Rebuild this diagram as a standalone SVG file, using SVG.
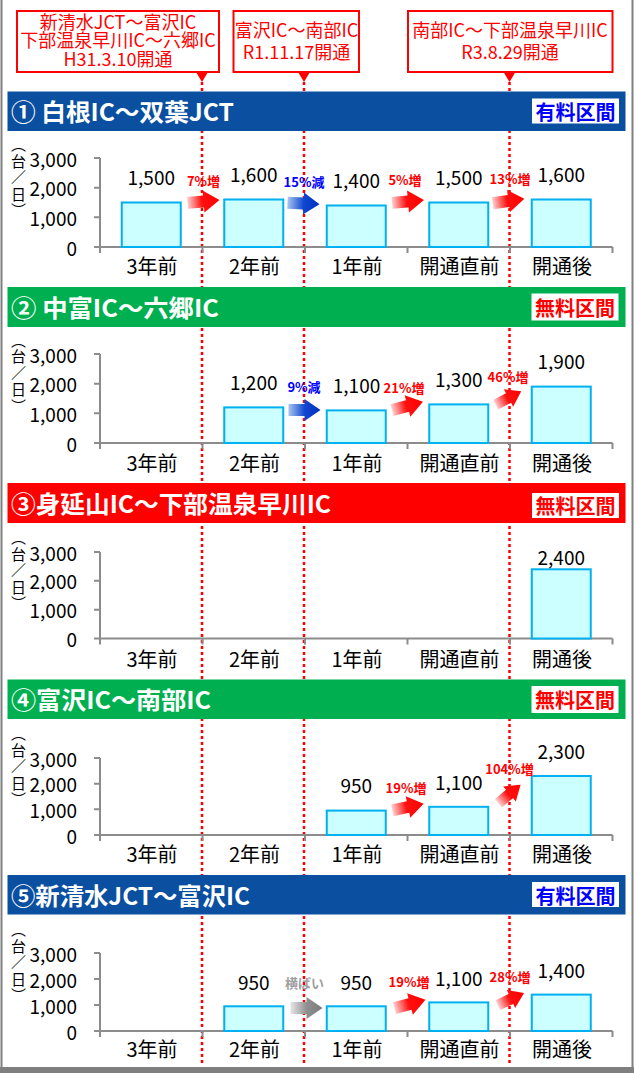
<svg xmlns="http://www.w3.org/2000/svg" xmlns:xlink="http://www.w3.org/1999/xlink" width="634" height="1073" viewBox="0 0 634 1073">
<defs>
<style>
text{font-family:"Noto Sans CJK JP","Noto Sans",sans-serif}
.ttl{font-size:24px;font-weight:bold;fill:#fff}
.bw{fill:#fff}
.bb{font-size:20px;font-weight:bold;fill:#0000FF;text-anchor:middle}
.br{font-size:20px;font-weight:bold;fill:#FF0000;text-anchor:middle}
.ax{stroke:#8C8C8C;stroke-width:2;fill:none}
.yl{font-size:19px;text-anchor:end;dominant-baseline:central;fill:#000}
.cat{font-size:20px;text-anchor:middle;fill:#000}
.val{font-size:19px;text-anchor:middle;fill:#000}
.bar{fill:#CCFFFF;stroke:#00B0F0;stroke-width:2}
.u{font-size:15px;writing-mode:vertical-rl;letter-spacing:1.5px;fill:#000}
.pr{font-size:13px;font-weight:bold;text-anchor:middle;fill:#FF0000}
.pb{font-size:13px;font-weight:bold;text-anchor:middle;fill:#0000FF}
.pg{font-size:13px;font-weight:bold;text-anchor:middle;fill:#A0A0A0}
.dl{stroke:#FF0000;stroke-width:2.5;stroke-dasharray:3 3;fill:none}
.hb{fill:#fff;stroke:#FF0000;stroke-width:2}
.ht{font-size:18px;fill:#FF0000;text-anchor:middle}
.tri{fill:#FF0000}
</style>
<linearGradient id="gR" x1="0" y1="0" x2="1" y2="0">
<stop offset="0" stop-color="#FFD0D0"/>
<stop offset="0.45" stop-color="#FF1010"/>
<stop offset="1" stop-color="#FF0000"/>
</linearGradient>
<linearGradient id="gB" x1="0" y1="0" x2="1" y2="0">
<stop offset="0" stop-color="#A8C4F0"/>
<stop offset="0.5" stop-color="#1048D0"/>
<stop offset="1" stop-color="#0030C0"/>
</linearGradient>
<linearGradient id="gG" x1="0" y1="0" x2="1" y2="0">
<stop offset="0" stop-color="#E6E6E6"/>
<stop offset="0.5" stop-color="#909090"/>
<stop offset="1" stop-color="#7A7A7A"/>
</linearGradient>
<path id="arw" d="M-16,-6 H0 V-11 L16,0 L0,11 V6 H-16 Z"/>
</defs>

<rect x="0" y="0" width="634" height="1073" fill="#fff"/>
<g id="frame">
<line x1="1.5" y1="0" x2="1.5" y2="1073" stroke="#7F7F7F" stroke-width="2"/>
<line x1="632.5" y1="0" x2="632.5" y2="1073" stroke="#7F7F7F" stroke-width="2"/>
<rect x="0" y="1067" width="634" height="6" fill="#7F7F7F"/>
</g>

<g id="connectors">
<line class="dl" x1="202" y1="82" x2="202" y2="1066"/>
<line class="dl" x1="304" y1="82" x2="304" y2="1066"/>
<line class="dl" x1="509.5" y1="82" x2="509.5" y2="1066"/>
</g>

<g id="callout1">
<rect class="hb" x="17" y="11" width="202" height="61"/>
<polygon class="tri" points="196,72 208,72 202,82"/>
<text class="ht"><tspan x="118" y="28.5">新清水JCT～富沢IC</tspan><tspan x="118" y="47">下部温泉早川IC～六郷IC</tspan><tspan x="118" y="65.5">H31.3.10開通</tspan></text>
</g>
<g id="callout2">
<rect class="hb" x="233.5" y="11" width="125.5" height="61"/>
<polygon class="tri" points="298,72 310,72 304,82"/>
<text class="ht"><tspan x="296.5" y="37">富沢IC～南部IC</tspan><tspan x="296.5" y="58.5">R1.11.17開通</tspan></text>
</g>
<g id="callout3">
<rect class="hb" x="408" y="11" width="204.5" height="61"/>
<polygon class="tri" points="503.5,72 515.5,72 509.5,82"/>
<text class="ht"><tspan x="510" y="37">南部IC～下部温泉早川IC</tspan><tspan x="510" y="58.5">R3.8.29開通</tspan></text>
</g>

<!-- Section 1 -->
<g id="section1">
<rect x="7.5" y="91.5" width="618" height="39.5" fill="#0A4FA0"/>
<text class="ttl" x="11" y="121" textLength="223" lengthAdjust="spacingAndGlyphs">① 白根IC～双葉JCT</text>
<rect class="bw" x="532" y="98.5" width="87" height="25"/>
<text class="bb" x="575.5" y="120">有料区間</text>
<text class="u" x="18.5" y="137">︵台／日︶</text>
<text class="yl" x="77" y="158">3,000</text>
<text class="yl" x="77" y="187.7">2,000</text>
<text class="yl" x="77" y="217.3">1,000</text>
<text class="yl" x="77" y="247">0</text>
<path class="ax" d="M100,158V247M94,158H100M94,187.7H100M94,217.3H100M94,247H612.5M100,247v6M202.5,247v6M305,247v6M407.5,247v6M510,247v6M612.5,247v6"/>
<rect class="bar" x="121.75" y="202.5" width="59" height="44.5"/>
<rect class="bar" x="224.25" y="199.5" width="59" height="47.5"/>
<rect class="bar" x="326.75" y="205.5" width="59" height="41.5"/>
<rect class="bar" x="429.25" y="202.5" width="59" height="44.5"/>
<rect class="bar" x="531.75" y="199.5" width="59" height="47.5"/>
<text class="val" x="151.25" y="185">1,500</text>
<text class="val" x="253.75" y="182">1,600</text>
<text class="val" x="356.25" y="188">1,400</text>
<text class="val" x="458.75" y="185">1,500</text>
<text class="val" x="561.25" y="182">1,600</text>
<text class="cat" x="152" y="274">3年前</text>
<text class="cat" x="254.5" y="274">2年前</text>
<text class="cat" x="357" y="274">1年前</text>
<text class="cat" x="459.5" y="274">開通直前</text>
<text class="cat" x="562" y="274">開通後</text>
<use xlink:href="#arw" href="#arw" fill="url(#gR)" transform="translate(203.5,201.5) rotate(-5)"/>
<use xlink:href="#arw" href="#arw" fill="url(#gB)" transform="translate(303.5,203.5) rotate(3)"/>
<use xlink:href="#arw" href="#arw" fill="url(#gR)" transform="translate(408,201.5) rotate(-5)"/>
<use xlink:href="#arw" href="#arw" fill="url(#gR)" transform="translate(508.5,201) rotate(-8)"/>
<text class="pr" x="203.5" y="185.5">7%増</text>
<text class="pb" x="304" y="187">15%減</text>
<text class="pr" x="405" y="185">5%増</text>
<text class="pr" x="510" y="183.5">13%増</text>
</g>

<!-- Section 2 -->
<g id="section2">
<rect x="7.5" y="287" width="618" height="40" fill="#00B050"/>
<text class="ttl" x="11" y="316.5" textLength="208" lengthAdjust="spacingAndGlyphs">② 中富IC～六郷IC</text>
<rect class="bw" x="531.5" y="293.5" width="87" height="27"/>
<text class="br" x="575" y="315.5">無料区間</text>
<text class="u" x="18.5" y="332.5">︵台／日︶</text>
<text class="yl" x="77" y="354">3,000</text>
<text class="yl" x="77" y="383.7">2,000</text>
<text class="yl" x="77" y="413.3">1,000</text>
<text class="yl" x="77" y="443">0</text>
<path class="ax" d="M100,354V443M94,354H100M94,383.7H100M94,413.3H100M94,443H612.5M100,443v6M202.5,443v6M305,443v6M407.5,443v6M510,443v6M612.5,443v6"/>
<rect class="bar" x="224.25" y="407.4" width="59" height="35.6"/>
<rect class="bar" x="326.75" y="410.4" width="59" height="32.6"/>
<rect class="bar" x="429.25" y="404.4" width="59" height="38.6"/>
<rect class="bar" x="531.75" y="386.6" width="59" height="56.4"/>
<text class="val" x="253.75" y="390">1,200</text>
<text class="val" x="356.5" y="393">1,100</text>
<text class="val" x="458.75" y="387">1,300</text>
<text class="val" x="561.25" y="369">1,900</text>
<text class="cat" x="152" y="471">3年前</text>
<text class="cat" x="254.5" y="471">2年前</text>
<text class="cat" x="357" y="471">1年前</text>
<text class="cat" x="459.5" y="471">開通直前</text>
<text class="cat" x="562" y="471">開通後</text>
<use xlink:href="#arw" href="#arw" fill="url(#gB)" transform="translate(304.5,410)"/>
<use xlink:href="#arw" href="#arw" fill="url(#gR)" transform="translate(407.5,406) rotate(-15)"/>
<use xlink:href="#arw" href="#arw" fill="url(#gR)" transform="translate(508.5,398) rotate(-28) scale(0.9)"/>
<text class="pb" x="304" y="391.5">9%減</text>
<text class="pr" x="404" y="393">21%増</text>
<text class="pr" x="508" y="382">46%増</text>
</g>

<!-- Section 3 -->
<g id="section3">
<rect x="7.5" y="483" width="618" height="40" fill="#FF0000"/>
<text class="ttl" x="11" y="513" textLength="320" lengthAdjust="spacingAndGlyphs">③身延山IC～下部温泉早川IC</text>
<rect class="bw" x="532" y="493" width="87" height="25"/>
<text class="br" x="575.5" y="514">無料区間</text>
<text class="u" x="18.5" y="530">︵台／日︶</text>
<text class="yl" x="77" y="552">3,000</text>
<text class="yl" x="77" y="580.8">2,000</text>
<text class="yl" x="77" y="609.7">1,000</text>
<text class="yl" x="77" y="638.5">0</text>
<path class="ax" d="M100,552V638.5M94,552H100M94,580.8H100M94,609.7H100M94,638.5H612.5M100,638.5v6M202.5,638.5v6M305,638.5v6M407.5,638.5v6M510,638.5v6M612.5,638.5v6"/>
<rect class="bar" x="531.75" y="569.3" width="59" height="69.2"/>
<text class="val" x="561.25" y="565">2,400</text>
<text class="cat" x="152" y="667">3年前</text>
<text class="cat" x="254.5" y="667">2年前</text>
<text class="cat" x="357" y="667">1年前</text>
<text class="cat" x="459.5" y="667">開通直前</text>
<text class="cat" x="562" y="667">開通後</text>
</g>

<!-- Section 4 -->
<g id="section4">
<rect x="7.5" y="679.5" width="618" height="39.5" fill="#00B050"/>
<text class="ttl" x="11" y="709" textLength="200" lengthAdjust="spacingAndGlyphs">④富沢IC～南部IC</text>
<rect class="bw" x="531.5" y="686" width="87" height="27"/>
<text class="br" x="575" y="708">無料区間</text>
<text class="u" x="18.5" y="726">︵台／日︶</text>
<text class="yl" x="77" y="758">3,000</text>
<text class="yl" x="77" y="783.7">2,000</text>
<text class="yl" x="77" y="809.3">1,000</text>
<text class="yl" x="77" y="835">0</text>
<path class="ax" d="M100,758V835M94,758H100M94,783.7H100M94,809.3H100M94,835H612.5M100,835v6M202.5,835v6M305,835v6M407.5,835v6M510,835v6M612.5,835v6"/>
<rect class="bar" x="326.75" y="810.6" width="59" height="24.4"/>
<rect class="bar" x="429.25" y="806.8" width="59" height="28.2"/>
<rect class="bar" x="531.75" y="776" width="59" height="59"/>
<text class="val" x="356.25" y="793">950</text>
<text class="val" x="458.75" y="789.5">1,100</text>
<text class="val" x="561.25" y="758.5">2,300</text>
<text class="cat" x="152" y="862">3年前</text>
<text class="cat" x="254.5" y="862">2年前</text>
<text class="cat" x="357" y="862">1年前</text>
<text class="cat" x="459.5" y="862">開通直前</text>
<text class="cat" x="562" y="862">開通後</text>
<use xlink:href="#arw" href="#arw" fill="url(#gR)" transform="translate(408,807) rotate(-12)"/>
<use xlink:href="#arw" href="#arw" fill="url(#gR)" transform="translate(509.5,794) rotate(-40) scale(0.9)"/>
<text class="pr" x="406" y="792.5">19%増</text>
<text class="pr" x="509.5" y="773.5">104%増</text>
</g>

<!-- Section 5 -->
<g id="section5">
<rect x="7.5" y="875" width="618" height="39.5" fill="#0A4FA0"/>
<text class="ttl" x="11" y="904.5" textLength="239" lengthAdjust="spacingAndGlyphs">⑤新清水JCT～富沢IC</text>
<rect class="bw" x="532" y="882" width="87" height="25"/>
<text class="bb" x="575.5" y="903.5">有料区間</text>
<text class="u" x="18.5" y="922">︵台／日︶</text>
<text class="yl" x="77" y="953">3,000</text>
<text class="yl" x="77" y="979">2,000</text>
<text class="yl" x="77" y="1005">1,000</text>
<text class="yl" x="77" y="1031">0</text>
<path class="ax" d="M100,953V1031M94,953H100M94,979H100M94,1005H100M94,1031H612.5M100,1031v6M202.5,1031v6M305,1031v6M407.5,1031v6M510,1031v6M612.5,1031v6"/>
<rect class="bar" x="224.25" y="1006.3" width="59" height="24.7"/>
<rect class="bar" x="326.75" y="1006.3" width="59" height="24.7"/>
<rect class="bar" x="429.25" y="1002.4" width="59" height="28.6"/>
<rect class="bar" x="531.75" y="994.6" width="59" height="36.4"/>
<text class="val" x="253.75" y="989.5">950</text>
<text class="val" x="356.25" y="989.5">950</text>
<text class="val" x="458.75" y="985.5">1,100</text>
<text class="val" x="561.25" y="977.5">1,400</text>
<text class="cat" x="152" y="1057">3年前</text>
<text class="cat" x="254.5" y="1057">2年前</text>
<text class="cat" x="357" y="1057">1年前</text>
<text class="cat" x="459.5" y="1057">開通直前</text>
<text class="cat" x="562" y="1057">開通後</text>
<use xlink:href="#arw" href="#arw" fill="url(#gG)" transform="translate(306.5,1008)"/>
<use xlink:href="#arw" href="#arw" fill="url(#gR)" transform="translate(410,1004) rotate(-15)"/>
<use xlink:href="#arw" href="#arw" fill="url(#gR)" transform="translate(511,999) rotate(-25) scale(0.9)"/>
<text class="pg" x="304.5" y="988">横ばい</text>
<text class="pr" x="409" y="987">19%増</text>
<text class="pr" x="510" y="982">28%増</text>
</g>
</svg>
